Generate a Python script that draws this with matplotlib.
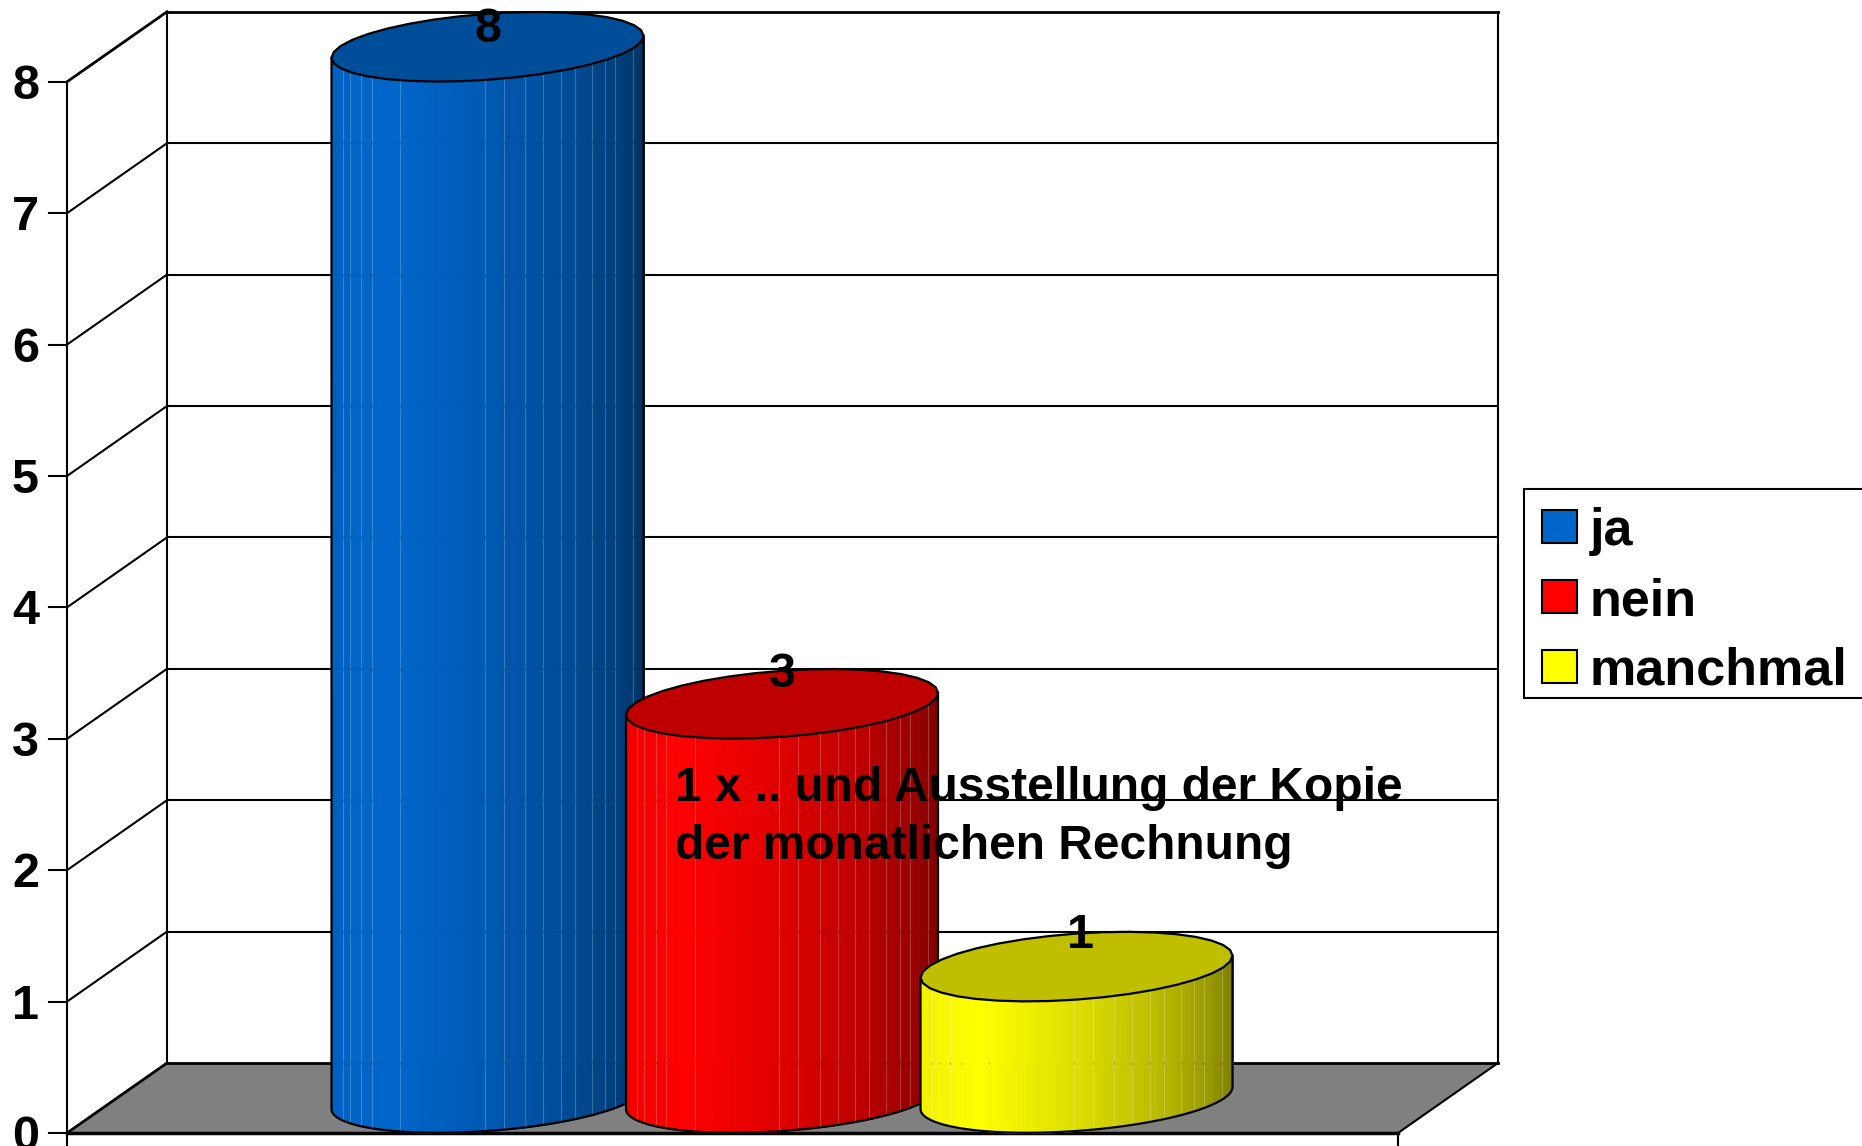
import numpy as np
import matplotlib
matplotlib.use("Agg")
import matplotlib.pyplot as plt
from matplotlib.patches import Patch, Polygon, Rectangle

plt.rcParams["font.family"] = ["Liberation Sans", "DejaVu Sans"]
plt.rcParams["font.weight"] = "bold"

# dados
categorias = ["ja", "nein", "manchmal"]
valores = [8, 3, 1]
ticks_y = [0, 1, 2, 3, 4, 5, 6, 7, 8]
nota = "1 x .. und Ausstellung der Kopie\nder monatlichen Rechnung"

# cores
cores = [(0.0, 0.4, 0.8), (1.0, 0.0, 0.0), (1.0, 1.0, 0.0)]
cor_chao = "#808080"

# escala: 1 categoria = 294.5 px, 1 unidade = 131.4 px
PX_X = 294.5
PX_Y = 131.4
X_ZERO = 487.5
Y_ZERO = 1133.0

# geometria do falso 3D, em unidades dos eixos
prof_x = 100 / PX_X
prof_y = 70 / PX_Y
x_esq = (67 - X_ZERO) / PX_X
x_dir = (1398 - X_ZERO) / PX_X
raio_x = 156 / PX_X
raio_y = 33 / PX_Y
incl = 11 / PX_Y
y_max = 8
lift_rotulo = [0.303, 0.396, 0.408]
dx_rotulo = [0.002, 0.0, 0.012]
angulos_juntas = [158, 152, 144, 138, 124, 91, 84, 76, 69, 62, 56, 48, 41, 35, 21]

fig = plt.figure(figsize=(18.62, 11.46), dpi=100)
ax = fig.add_axes([0, 0, 1, 1])
ax.set_xlim(-X_ZERO / PX_X, (1862 - X_ZERO) / PX_X)
ax.set_ylim((Y_ZERO - 1146) / PX_Y, Y_ZERO / PX_Y)
ax.axis("off")

# chao
ax.add_patch(Polygon([(x_esq, 0), (x_dir, 0), (x_dir + prof_x, prof_y), (x_esq + prof_x, prof_y)],
                     closed=True, facecolor=cor_chao, edgecolor="none", zorder=1))

# linhas de grade, parede lateral e ticks
for v in ticks_y:
    lw = 2.0 if v in (0, y_max) else 1.5
    ax.plot([x_esq, x_esq + prof_x], [v, v + prof_y], color="black", lw=lw, zorder=2)
    ax.plot([x_esq + prof_x, x_dir + prof_x], [v + prof_y, v + prof_y], color="black", lw=lw, zorder=2)
    ax.plot([x_esq - 18 / PX_X, x_esq], [v, v], color="black", lw=1.5, zorder=2)
    ax.text(x_esq - 28 / PX_X, v - 17 / PX_Y, str(v), ha="right", va="baseline", fontsize=35, zorder=6)

ax.plot([x_esq, x_esq], [y_max, -13 / PX_Y], color="black", lw=1.5, zorder=2)
ax.plot([x_esq + prof_x] * 2, [prof_y, y_max + prof_y], color="black", lw=1.5, zorder=2)
ax.plot([x_dir + prof_x] * 2, [prof_y, y_max + prof_y], color="black", lw=1.5, zorder=2)
ax.plot([x_dir, x_dir + prof_x], [0, prof_y], color="black", lw=1.5, zorder=2)
ax.plot([x_esq, x_dir], [0, 0], color="black", lw=2.5, zorder=2)
ax.plot([x_dir, x_dir], [0, -13 / PX_Y], color="black", lw=1.5, zorder=2)


def curva_frente(xc, v, t):
    # borda da elipse para um angulo t, no nivel v
    return xc + raio_x * np.cos(t), v + prof_y / 2 + incl * np.cos(t) + raio_y * np.sin(t)


def fator_luz(u):
    return np.interp(u, [-1, -0.62, 0, 0.5, 0.85, 1], [0.95, 1, 0.87, 0.74, 0.6, 0.5])


for i, (valor, cor) in enumerate(zip(valores, cores)):
    z = 3 + i * 0.1
    t = np.linspace(np.pi, 2 * np.pi, 141)
    xb, yb = curva_frente(i, 0, t)
    xt, yt = curva_frente(i, valor, t)

    # corpo do cilindro em faixas finas
    for k in range(len(t) - 1):
        fat = fator_luz(np.cos((t[k] + t[k + 1]) / 2))
        ax.fill_between(xb[k:k + 2], yb[k:k + 2], yt[k:k + 2], color=tuple(c * fat for c in cor),
                        lw=0.6, antialiased=False, zorder=z)

    # juntas claras, com a grade aparecendo de leve
    for ang in angulos_juntas:
        tj = np.pi + np.deg2rad(180 - ang)
        xj, y0 = curva_frente(i, 0, tj)
        _, y1 = curva_frente(i, valor, tj)
        ax.plot([xj, xj], [y0, y1], color="white", lw=0.8, alpha=0.22, zorder=z)
        for v in ticks_y:
            yg = v + prof_y
            if y0 < yg < y1:
                ax.plot([xj, xj], [yg - 1 / PX_Y, yg + 1 / PX_Y], color="black", lw=0.8, alpha=0.2, zorder=z)

    # contorno do corpo
    xc = np.concatenate([[xt[0]], xb, [xt[-1]]])
    yc = np.concatenate([[yt[0]], yb, [yt[-1]]])
    ax.plot(xc, yc, color="black", lw=1.6, zorder=z)

    # tampa
    ta = np.linspace(0, 2 * np.pi, 37)
    xe, ye = curva_frente(i, valor, ta)
    ax.add_patch(Polygon(np.column_stack([xe, ye]), closed=True, facecolor=tuple(c * 0.75 for c in cor),
                         edgecolor="black", lw=1.6, zorder=z))

    ax.text(i + dx_rotulo[i], valor + lift_rotulo[i], str(valor), ha="center", va="baseline",
            fontsize=35, zorder=6)

# nota sobre as barras
ax.text((675 - X_ZERO) / PX_X, (Y_ZERO - 801) / PX_Y, nota.split("\n")[0], ha="left", va="baseline",
        fontsize=34.5, zorder=7)
ax.text((675 - X_ZERO) / PX_X, (Y_ZERO - 859) / PX_Y, nota.split("\n")[1], ha="left", va="baseline",
        fontsize=34.5, zorder=7)

# legenda, com moldura propria porque a altura da caixa nao segue o texto
fig.add_artist(Rectangle((1524 / 1862, 1 - 698 / 1146), 345 / 1862, 209 / 1146, transform=fig.transFigure,
                         facecolor="white", edgecolor="black", lw=1.5, zorder=8))
handles = [Patch(facecolor=c, edgecolor="black", lw=1.5, label=n) for c, n in zip(cores, categorias)]
leg = ax.legend(handles=handles, loc="upper left", bbox_to_anchor=(1524 / 1862, 1 - 489 / 1146),
                bbox_transform=fig.transFigure, frameon=False, fontsize=37.5, borderaxespad=0,
                borderpad=0.35, handlelength=0.67, handleheight=0.6, handletextpad=0.24, labelspacing=0.4)
leg.set_zorder(9)
fig.add_artist(leg)

fig.savefig("out.png", dpi=100)
